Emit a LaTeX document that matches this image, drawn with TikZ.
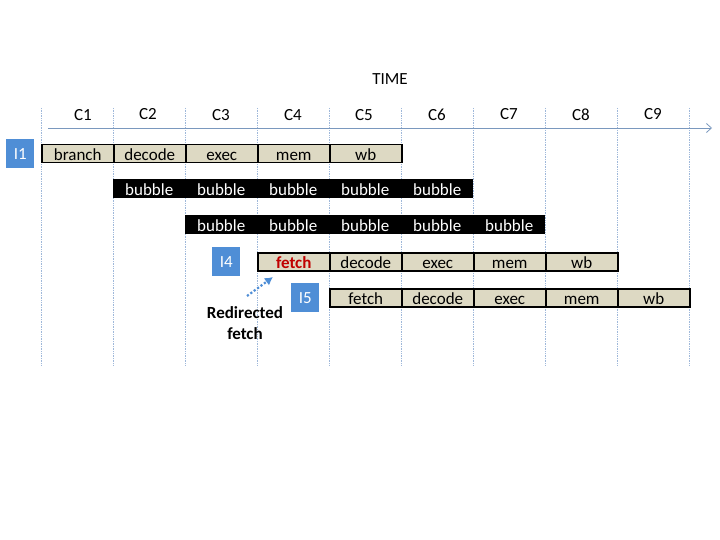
\documentclass[tikz,border=0pt]{standalone}
\usepackage{fontspec}
\setmainfont{Carlito}
\usetikzlibrary{arrows.meta}
\definecolor{beige}{HTML}{DDD9C3}
\definecolor{iblue}{HTML}{4F8ED6}
\definecolor{axis}{HTML}{7A98BE}
\definecolor{grid}{HTML}{9FB8DA}
\definecolor{fred}{HTML}{C00000}
\begin{document}
\begin{tikzpicture}[x=1pt,y=-1pt,
  font=\fontsize{17}{20}\selectfont,
  stage/.style={draw=black,line width=1.5pt,fill=beige,minimum width=72pt,minimum height=18pt,inner sep=0pt,text height=14pt,text depth=0pt,anchor=north west},
  bub/.style={fill=black,text=white,minimum width=72pt,minimum height=19pt,inner sep=0pt,text height=14pt,text depth=0pt,anchor=north west},
  ibox/.style={fill=iblue,text=white,minimum width=28pt,minimum height=29pt,inner sep=0pt,anchor=north west},
  gridl/.style={draw=grid,densely dotted,line width=0.7pt},
  clab/.style={inner sep=0pt}]
\useasboundingbox (0,0) rectangle (720,540);
% grid lines
\foreach \i in {0,...,9} {
  \coordinate (gt\i) at ({41+72*\i},108);
  \coordinate (gb\i) at ({41+72*\i},365);
  \draw[gridl] (gt\i) -- (gb\i);
}
% axis
\coordinate (ax0) at (48,128);
\coordinate (ax1) at (712,128);
\draw[axis,line width=0.8pt,-{Straight Barb[length=5pt,width=9pt]}] (ax0) -- (ax1);
\node[clab] (time) at (390,79) {TIME};
\node[clab] (c1) at (83,115) {C1};
\node[clab] (c2) at (148,114) {C2};
\node[clab] (c3) at (221,115) {C3};
\node[clab] (c4) at (293,115) {C4};
\node[clab] (c5) at (364,115) {C5};
\node[clab] (c6) at (437,115) {C6};
\node[clab] (c7) at (509,114) {C7};
\node[clab] (c8) at (581,115) {C8};
\node[clab] (c9) at (653,114) {C9};
% I1
\node[ibox] (i1) at (6,139) {I1};
\node[stage] (r1a) at (41,144) {branch};
\node[stage] (r1b) at (113,144) {decode};
\node[stage] (r1c) at (185,144) {exec};
\node[stage] (r1d) at (257,144) {mem};
\node[stage] (r1e) at (329,144) {wb};
% bubbles
\foreach \k in {0,...,4} {
  \node[bub] (b2\k) at ({113+72*\k},179) {bubble};
  \node[bub] (b3\k) at ({185+72*\k},215) {bubble};
}
% I4
\node[ibox] (i4) at (212,247) {I4};
\node[stage] (r4a) at (257,252) {\textcolor{fred}{\textbf{fetch}}};
\node[stage] (r4b) at (329,252) {decode};
\node[stage] (r4c) at (401,252) {exec};
\node[stage] (r4d) at (473,252) {mem};
\node[stage] (r4e) at (545,252) {wb};
% I5
\node[ibox] (i5) at (291,283) {I5};
\node[stage] (r5a) at (329,288) {fetch};
\node[stage] (r5b) at (401,288) {decode};
\node[stage] (r5c) at (473,288) {exec};
\node[stage] (r5d) at (545,288) {mem};
\node[stage] (r5e) at (617,288) {wb};
% redirected fetch
\node[font=\fontsize{17}{21}\selectfont\bfseries,align=center,inner sep=0pt] (rf) at (245,323) {Redirected\\fetch};
\coordinate (ar0) at (247,296);
\coordinate (ar1) at (273,277);
\draw[iblue,line width=2.2pt,dotted,-{Latex[length=8pt,width=9pt]}] (ar0) -- (ar1);
\end{tikzpicture}
\end{document}
